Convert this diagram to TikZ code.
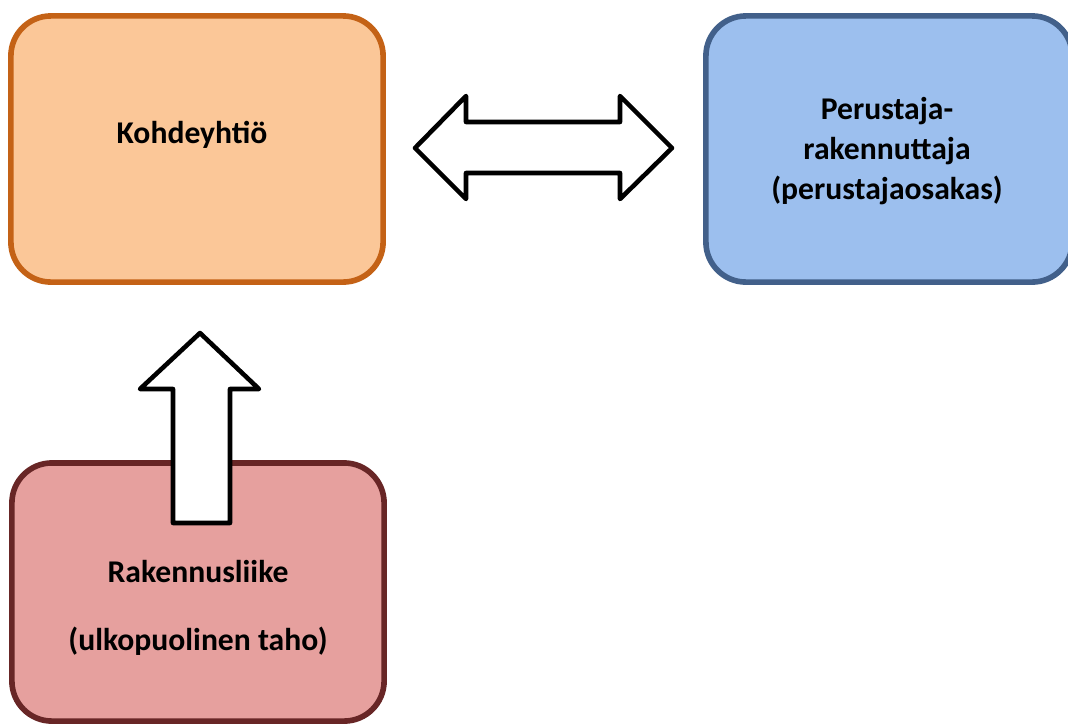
\documentclass[tikz,border=0pt]{standalone}
\usepackage{fontspec}
\setmainfont{Carlito}
\usetikzlibrary{positioning}
\definecolor{orangefill}{RGB}{251,199,152}
\definecolor{orangeline}{RGB}{196,98,22}
\definecolor{bluefill}{RGB}{156,191,238}
\definecolor{blueline}{RGB}{66,96,138}
\definecolor{redfill}{RGB}{230,160,158}
\definecolor{redline}{RGB}{104,38,38}
\tikzset{
  box/.style={rounded corners=0.4cm, line width=1.6pt, minimum width=3.72cm,
    minimum height=2.66cm, align=center},
  boxtext/.style={font=\fontsize{9}{11.4}\selectfont\bfseries, align=center},
  blockarrow/.style={draw=black, fill=white, line width=1.3pt, line join=round}
}
\begin{document}
\begin{tikzpicture}[x=0.01cm, y=-0.01cm]
  \useasboundingbox (0,0) rectangle (1068,724);
  % boxes
  \node[box, draw=orangeline, fill=orangefill] (kohde) at (197,149) {};
  \node[box, draw=blueline, fill=bluefill, minimum width=3.66cm] (perustaja) at (889,149) {};
  \node[box, draw=redline, fill=redfill, minimum height=2.58cm] (liike) at (198,592) {};
  % texts
  \node[boxtext] (kohdetext) at (192,135) {Kohdeyhtiö};
  \node[boxtext] (perustajatext) at (887,151)
    {Perustaja-\\rakennuttaja\\(perustajaosakas)};
  % double arrow
  \draw[blockarrow] (415,148) -- (466,96) -- (466,122) -- (620,122) -- (620,96)
    -- (672,148) -- (620,199) -- (620,173) -- (466,173) -- (466,199) -- cycle;
  % up arrow
  \draw[blockarrow] (200,333) -- (259,389) -- (230,389) -- (230,523)
    -- (173,523) -- (173,389) -- (140,389) -- cycle;
  \node[boxtext] (liiketext) at (198,608)
    {Rakennusliike\\[8pt](ulkopuolinen taho)};
\end{tikzpicture}
\end{document}
